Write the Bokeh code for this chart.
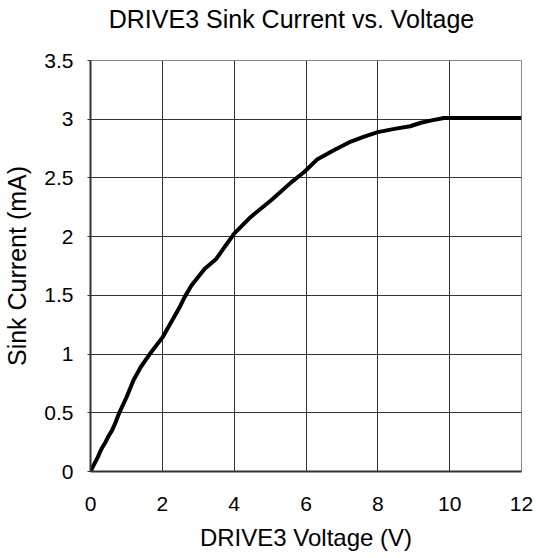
from bokeh.plotting import figure
from bokeh.models import FixedTicker, Range1d, Div
from bokeh.layouts import column
from bokeh.embed import file_html
from bokeh.resources import INLINE

voltage = [0, 0.1, 0.2, 0.3, 0.4, 0.5, 0.6, 0.7, 0.8, 1.0, 1.2, 1.4, 1.65, 2.0, 2.3, 2.5,
           2.62, 2.81, 3.18, 3.5, 3.73, 4.0, 4.47, 5.03, 5.58, 5.95, 6.32, 6.8, 7.25, 7.6,
           8.0, 8.5, 8.9, 9.2, 9.5, 9.84, 10.5, 11.0, 12.0]
current = [0, 0.06, 0.12, 0.19, 0.24, 0.3, 0.35, 0.42, 0.5, 0.63, 0.78, 0.89, 1.0, 1.14, 1.3, 1.41,
           1.485, 1.584, 1.727, 1.81, 1.91, 2.025, 2.17, 2.31, 2.46, 2.55, 2.66, 2.74, 2.81, 2.85,
           2.89, 2.92, 2.94, 2.97, 2.99, 3.01, 3.01, 3.01, 3.01]
x_ticks = [0, 2, 4, 6, 8, 10, 12]
y_ticks = [0, 0.5, 1, 1.5, 2, 2.5, 3, 3.5]
title_text = "DRIVE3 Sink Current vs. Voltage"

FONT = "Liberation Sans"

title_div = Div(text=title_text, width=536, height=40, margin=0,
                styles={"font-family": FONT, "font-size": "25px", "color": "black",
                        "text-align": "center", "line-height": "38px",
                        "padding-left": "47px", "box-sizing": "border-box",
                        "width": "536px", "white-space": "nowrap", "overflow": "hidden"})

p = figure(width=536, height=518, output_backend="svg", toolbar_location=None,
           x_range=Range1d(0, 12), y_range=Range1d(0, 3.5), margin=0,
           min_border_left=89, min_border_right=15, min_border_top=20, min_border_bottom=87)

p.line(voltage, current, line_color="black", line_width=4)

p.xaxis.ticker = FixedTicker(ticks=x_ticks)
p.yaxis.ticker = FixedTicker(ticks=y_ticks)
p.xaxis.axis_label = "DRIVE3 Voltage (V)"
p.yaxis.axis_label = "Sink Current (mA)"
for ax in (p.xaxis[0], p.yaxis[0]):
    ax.axis_label_text_font = FONT
    ax.axis_label_text_font_style = "normal"
    ax.axis_label_text_color = "black"
    ax.major_label_text_font = FONT
    ax.major_label_text_font_size = "21px"
    ax.major_label_text_color = "black"
    ax.minor_tick_line_color = None
    ax.axis_line_color = "#333333"
    ax.axis_line_width = 2
p.xaxis.axis_label_text_font_size = "24px"
p.yaxis.axis_label_text_font_size = "25px"
p.xaxis.major_tick_line_color = None
p.xaxis.major_tick_out = 0
p.xaxis.major_tick_in = 0
p.xaxis.major_label_standoff = 25
p.xaxis.axis_label_standoff = 10
p.yaxis.major_tick_out = 3
p.yaxis.major_tick_in = 0
p.yaxis.major_tick_line_color = "#333333"
p.yaxis.major_label_standoff = 14
p.yaxis.axis_label_standoff = 10

p.grid.grid_line_color = "#333333"
p.grid.grid_line_width = 1
p.outline_line_color = "#888888"
p.outline_line_width = 1
p.background_fill_color = "white"
p.border_fill_color = "white"

layout = column(title_div, p, spacing=0, margin=0)
open("out.html", "w").write(file_html(layout, INLINE))
